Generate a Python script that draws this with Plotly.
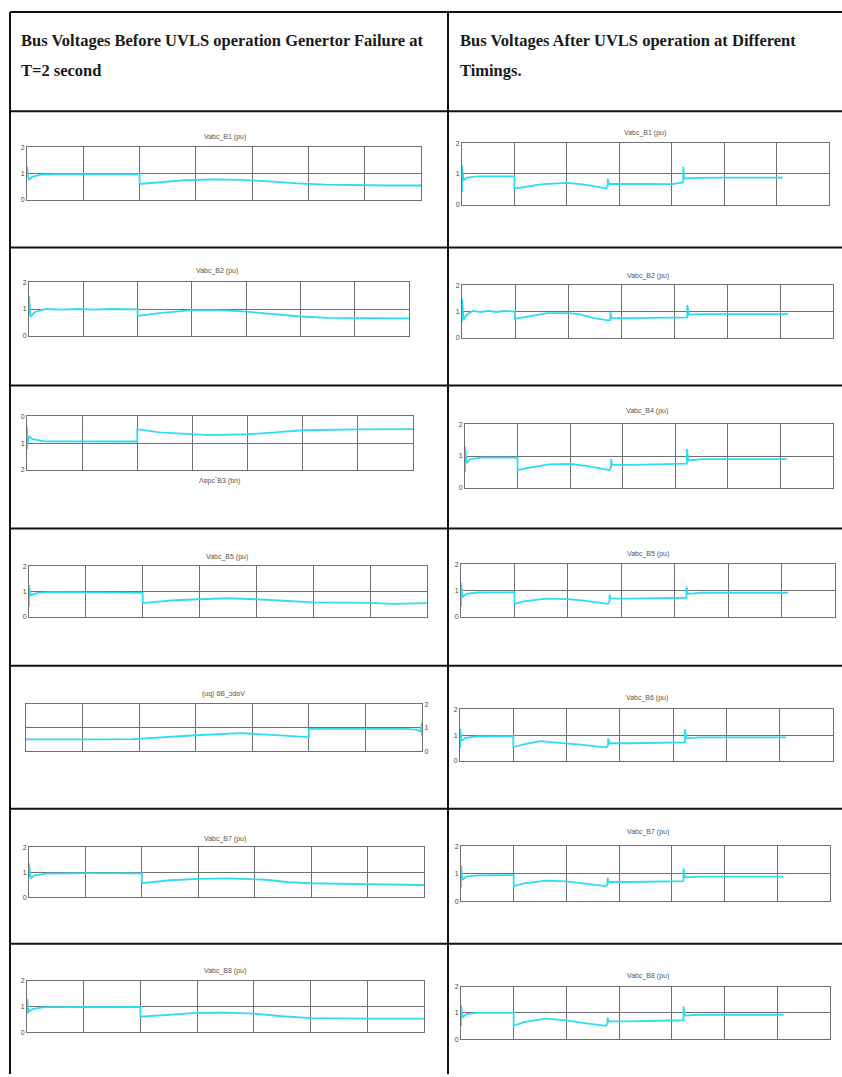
import plotly.graph_objects as go

W, H = 842, 1077

# ---------------- text ----------------
header_left = ["Bus Voltages Before UVLS operation Genertor Failure at", "T=2 second"]
header_right = ["Bus Voltages After UVLS operation at Different", "Timings."]

titles_before = ["Vabc_B1 (pu)", "Vabc_B2 (pu)", "Λɐpc‾B3 (bn)", "Vabc_B5 (pu)",
                 "(uq) 6B_ɔdɒV", "Vabc_B7 (pu)", "Vabc_B8 (pu)"]
titles_after = ["Vabc_B1 (pu)", "Vabc_B2 (pu)", "Vabc_B4 (pu)", "Vabc_B5 (pu)",
                "Vabc_B6 (pu)", "Vabc_B7 (pu)", "Vabc_B8 (pu)"]

y_tick_values = [0, 1, 2]
y_tick_labels = ["0", "1", "2"]
time_range = [0, 7]

# ---------------- data: before UVLS (generator failure at t = 2 s) ----------------
b1_before_t = [0, 0, 0.03, 0.1, 0.25, 0.6, 1.2, 2.0, 2.0, 2.3, 2.8, 3.3, 3.8, 4.3, 4.8, 5.3, 5.8, 6.4, 7.0]
b1_before_v = [1.0, 1.27, 0.75, 0.88, 0.95, 0.97, 0.97, 0.97, 0.6, 0.66, 0.74, 0.77, 0.75, 0.7, 0.62, 0.57, 0.55, 0.54, 0.54]

b2_before_t = [0, 0, 0.03, 0.1, 0.3, 0.6, 0.9, 1.2, 1.5, 1.8, 2.0, 2.0, 2.4, 3.0, 3.5, 4.0, 4.5, 5.0, 5.5, 6.0, 7.0]
b2_before_v = [0.8, 1.5, 0.7, 0.88, 1.0, 0.98, 1.0, 0.98, 1.0, 0.99, 0.99, 0.74, 0.85, 0.96, 0.96, 0.9, 0.8, 0.72, 0.67, 0.66, 0.65]

b3_before_t = [0, 0, 0.03, 0.1, 0.3, 1.0, 2.0, 2.0, 2.4, 3.3, 4.0, 4.5, 5.0, 6.0, 7.0]
b3_before_v = [0.37, 1.22, 0.74, 0.85, 0.93, 0.94, 0.94, 0.48, 0.6, 0.7, 0.67, 0.6, 0.52, 0.49, 0.48]

b5_before_t = [0, 0, 0.03, 0.15, 0.4, 1.0, 2.0, 2.0, 2.5, 3.0, 3.5, 4.0, 4.5, 5.0, 6.0, 6.4, 7.0]
b5_before_v = [0.4, 1.25, 0.86, 0.95, 0.98, 0.96, 0.95, 0.55, 0.65, 0.7, 0.74, 0.7, 0.63, 0.58, 0.56, 0.52, 0.55]

b6_before_t = [0, 0, 0.03, 0.1, 0.3, 1.0, 2.0, 2.0, 2.5, 3.2, 4.0, 4.5, 5.1, 6.0, 7.0]
b6_before_v = [0.64, 1.23, 0.85, 0.92, 0.95, 0.96, 0.95, 0.6, 0.68, 0.77, 0.68, 0.6, 0.51, 0.5, 0.5]

b7_before_t = [0, 0, 0.03, 0.1, 0.3, 1.0, 2.0, 2.0, 2.5, 3.0, 3.5, 4.2, 4.6, 5.0, 6.0, 7.0]
b7_before_v = [0.8, 1.36, 0.76, 0.88, 0.95, 0.97, 0.96, 0.56, 0.68, 0.74, 0.76, 0.7, 0.6, 0.56, 0.52, 0.49]

b8_before_t = [0, 0, 0.03, 0.1, 0.3, 1.0, 2.0, 2.0, 2.5, 3.0, 3.5, 4.0, 4.5, 5.0, 6.0, 7.0]
b8_before_v = [0.7, 1.3, 0.8, 0.9, 0.97, 0.98, 0.98, 0.6, 0.68, 0.75, 0.76, 0.72, 0.62, 0.55, 0.53, 0.53]

# ---------------- data: after UVLS operation ----------------
b1_after_t = [0, 0, 0.03, 0.1, 0.3, 0.6, 1.0, 1.0, 1.2, 1.5, 2.0, 2.3, 2.6, 2.75, 2.78, 2.78, 2.8, 3.0, 4.0, 4.22, 4.22, 4.24, 4.5, 5.0, 6.12]
b1_after_v = [0.4, 1.26, 0.8, 0.88, 0.92, 0.93, 0.92, 0.52, 0.58, 0.66, 0.71, 0.66, 0.58, 0.53, 0.6, 0.84, 0.68, 0.68, 0.67, 0.72, 1.23, 0.85, 0.87, 0.88, 0.88]

b2_after_t = [0, 0, 0.03, 0.1, 0.2, 0.35, 0.5, 0.65, 0.8, 1.0, 1.0, 1.2, 1.6, 2.0, 2.2, 2.5, 2.75, 2.8, 2.8, 2.82, 3.2, 4.25, 4.25, 4.28, 4.5, 6.15]
b2_after_v = [0.6, 1.5, 0.7, 0.9, 1.02, 0.98, 1.02, 0.98, 1.02, 1.0, 0.72, 0.8, 0.94, 0.94, 0.9, 0.75, 0.66, 0.68, 0.98, 0.75, 0.75, 0.78, 1.25, 0.88, 0.9, 0.9]

b4_after_t = [0, 0, 0.03, 0.1, 0.3, 1.0, 1.0, 1.2, 1.6, 2.0, 2.3, 2.6, 2.75, 2.78, 2.78, 2.8, 3.2, 4.22, 4.22, 4.25, 4.5, 6.12]
b4_after_v = [0.5, 1.3, 0.78, 0.9, 0.95, 0.95, 0.56, 0.63, 0.74, 0.75, 0.69, 0.6, 0.56, 0.65, 0.9, 0.72, 0.72, 0.76, 1.22, 0.86, 0.9, 0.9]

b5_after_t = [0, 0, 0.03, 0.1, 0.3, 1.0, 1.0, 1.2, 1.6, 2.0, 2.3, 2.6, 2.75, 2.78, 2.78, 2.8, 3.2, 4.22, 4.22, 4.25, 4.5, 6.12]
b5_after_v = [0.4, 1.3, 0.75, 0.88, 0.93, 0.94, 0.5, 0.6, 0.7, 0.68, 0.62, 0.54, 0.5, 0.6, 0.85, 0.7, 0.7, 0.73, 1.15, 0.88, 0.92, 0.92]

b6_after_t = [0, 0, 0.03, 0.1, 0.3, 1.0, 1.0, 1.2, 1.5, 2.0, 2.3, 2.6, 2.75, 2.78, 2.78, 2.8, 3.2, 4.22, 4.22, 4.25, 4.5, 6.12]
b6_after_v = [0.5, 1.25, 0.78, 0.9, 0.95, 0.96, 0.54, 0.65, 0.77, 0.69, 0.63, 0.56, 0.54, 0.62, 0.88, 0.69, 0.69, 0.72, 1.23, 0.88, 0.92, 0.92]

b7_after_t = [0, 0, 0.03, 0.1, 0.3, 1.0, 1.0, 1.2, 1.6, 2.0, 2.3, 2.6, 2.75, 2.78, 2.78, 2.8, 3.2, 4.22, 4.22, 4.25, 4.5, 6.12]
b7_after_v = [0.5, 1.3, 0.78, 0.9, 0.94, 0.95, 0.55, 0.65, 0.75, 0.72, 0.65, 0.58, 0.55, 0.62, 0.85, 0.7, 0.7, 0.73, 1.2, 0.87, 0.9, 0.9]

b8_after_t = [0, 0, 0.03, 0.1, 0.3, 1.0, 1.0, 1.2, 1.6, 2.0, 2.3, 2.6, 2.75, 2.78, 2.78, 2.8, 3.2, 4.22, 4.22, 4.25, 4.5, 6.12]
b8_after_v = [0.5, 1.3, 0.82, 0.95, 1.0, 1.0, 0.51, 0.65, 0.78, 0.72, 0.62, 0.54, 0.51, 0.6, 0.83, 0.68, 0.68, 0.72, 1.24, 0.9, 0.93, 0.93]

before_series = [(b1_before_t, b1_before_v), (b2_before_t, b2_before_v), (b3_before_t, b3_before_v),
                 (b5_before_t, b5_before_v), (b6_before_t, b6_before_v), (b7_before_t, b7_before_v),
                 (b8_before_t, b8_before_v)]
after_series = [(b1_after_t, b1_after_v), (b2_after_t, b2_after_v), (b4_after_t, b4_after_v),
                (b5_after_t, b5_after_v), (b6_after_t, b6_after_v), (b7_after_t, b7_after_v),
                (b8_after_t, b8_after_v)]

# ---------------- layout geometry (pixels) ----------------
# plot boxes: (x0, x1, y_top, y_bottom)
boxes_before = [(27, 421, 144, 197), (29, 409, 280, 334), (27, 413, 415, 469), (29, 427, 566, 617),
                (26, 422, 705, 752), (29, 424, 849, 899), (27, 424, 983, 1035)]
boxes_after = [(462, 829, 140, 202), (462, 833, 283, 336), (465, 833, 423, 487), (461, 835, 564, 617),
               (460, 833, 710, 762), (461, 830, 848, 903), (461, 830, 989, 1042)]
title_pos_before = [(225, 134), (217, 269), (220, 480), (227, 557), (223, 695), (225, 840), (225, 973)]
title_pos_after = [(645, 130), (648, 274), (647, 410), (648, 554), (647, 699), (648, 833), (648, 978)]
row_lines_y = [8, 108, 245, 384, 528, 666, 810, 946]
col_lines_x = [10, 448]

LINE_COLOR = "#2edcf0"
GRID_COLOR = "#707070"

def px_x(x):
    return x / W

def px_y(y):
    return 1 - y / H

fig = go.Figure()
layout = {}
annotations = []

plots = []
for i in range(7):
    plots.append(("before", i, before_series[i], boxes_before[i], titles_before[i], title_pos_before[i]))
for i in range(7):
    plots.append(("after", i, after_series[i], boxes_after[i], titles_after[i], title_pos_after[i]))

for k, (side, i, (ts, vs), box, title, tpos) in enumerate(plots, start=1):
    sfx = "" if k == 1 else str(k)
    flipped = (side == "before" and i == 2)
    mirrored = (side == "before" and i == 4)
    fig.add_trace(go.Scatter(x=ts, y=vs, mode="lines",
                             line=dict(color=LINE_COLOR, width=1.8),
                             xaxis="x" + sfx, yaxis="y" + sfx, showlegend=False,
                             hoverinfo="skip"))
    x0, x1, yt, yb = box
    layout["xaxis" + sfx] = dict(
        domain=[px_x(x0), px_x(x1)], anchor="y" + sfx,
        range=time_range[::-1] if mirrored else time_range,
        showgrid=True, gridcolor=GRID_COLOR, gridwidth=1, dtick=1, tick0=0,
        showticklabels=False, ticks="", zeroline=False,
        showline=True, linecolor=GRID_COLOR, linewidth=1, mirror=True, fixedrange=True)
    layout["yaxis" + sfx] = dict(
        domain=[px_y(yb), px_y(yt)], anchor="x" + sfx,
        range=[2, 0] if flipped else [0, 2],
        tickvals=y_tick_values, ticktext=y_tick_labels,
        side="right" if mirrored else "left",
        showgrid=True, gridcolor=GRID_COLOR, gridwidth=1,
        tickfont=dict(size=7, color="#444444", family="Liberation Sans"),
        ticks="", ticklen=0, zeroline=False,
        showline=True, linecolor=GRID_COLOR, linewidth=1, mirror=True, fixedrange=True)
    annotations.append(dict(text=title, x=px_x(tpos[0]), y=px_y(tpos[1]), xref="paper", yref="paper",
                            showarrow=False, xanchor="center", yanchor="middle",
                            font=dict(size=7, color="#555555", family="Liberation Sans")))

# header text
HEADER_FONT = dict(size=16.5, color="#1a1a1a", family="Liberation Serif")
for j, line in enumerate(header_left):
    annotations.append(dict(text="<b>" + line + "</b>", x=px_x(19), y=px_y(37 + 30 * j),
                            xref="paper", yref="paper", showarrow=False,
                            xanchor="left", yanchor="middle", font=HEADER_FONT))
for j, line in enumerate(header_right):
    annotations.append(dict(text="<b>" + line + "</b>", x=px_x(458), y=px_y(37 + 30 * j),
                            xref="paper", yref="paper", showarrow=False,
                            xanchor="left", yanchor="middle", font=HEADER_FONT))

shapes = []
for y in row_lines_y:
    shapes.append(dict(type="line", xref="paper", yref="paper", x0=px_x(col_lines_x[0]), x1=1,
                       y0=px_y(y), y1=px_y(y), line=dict(color="#111111", width=2)))
for x in col_lines_x:
    shapes.append(dict(type="line", xref="paper", yref="paper", x0=px_x(x), x1=px_x(x),
                       y0=px_y(row_lines_y[0]), y1=0, line=dict(color="#111111", width=2)))

fig.update_layout(width=W, height=H, margin=dict(l=0, r=0, t=0, b=0),
                  paper_bgcolor="white", plot_bgcolor="white",
                  annotations=annotations, shapes=shapes, **layout)

fig.write_html("out.html", config={"displayModeBar": False},
               post_script="document.body.style.margin='0';document.body.style.padding='0';"
                           "document.documentElement.style.overflow='hidden';")
